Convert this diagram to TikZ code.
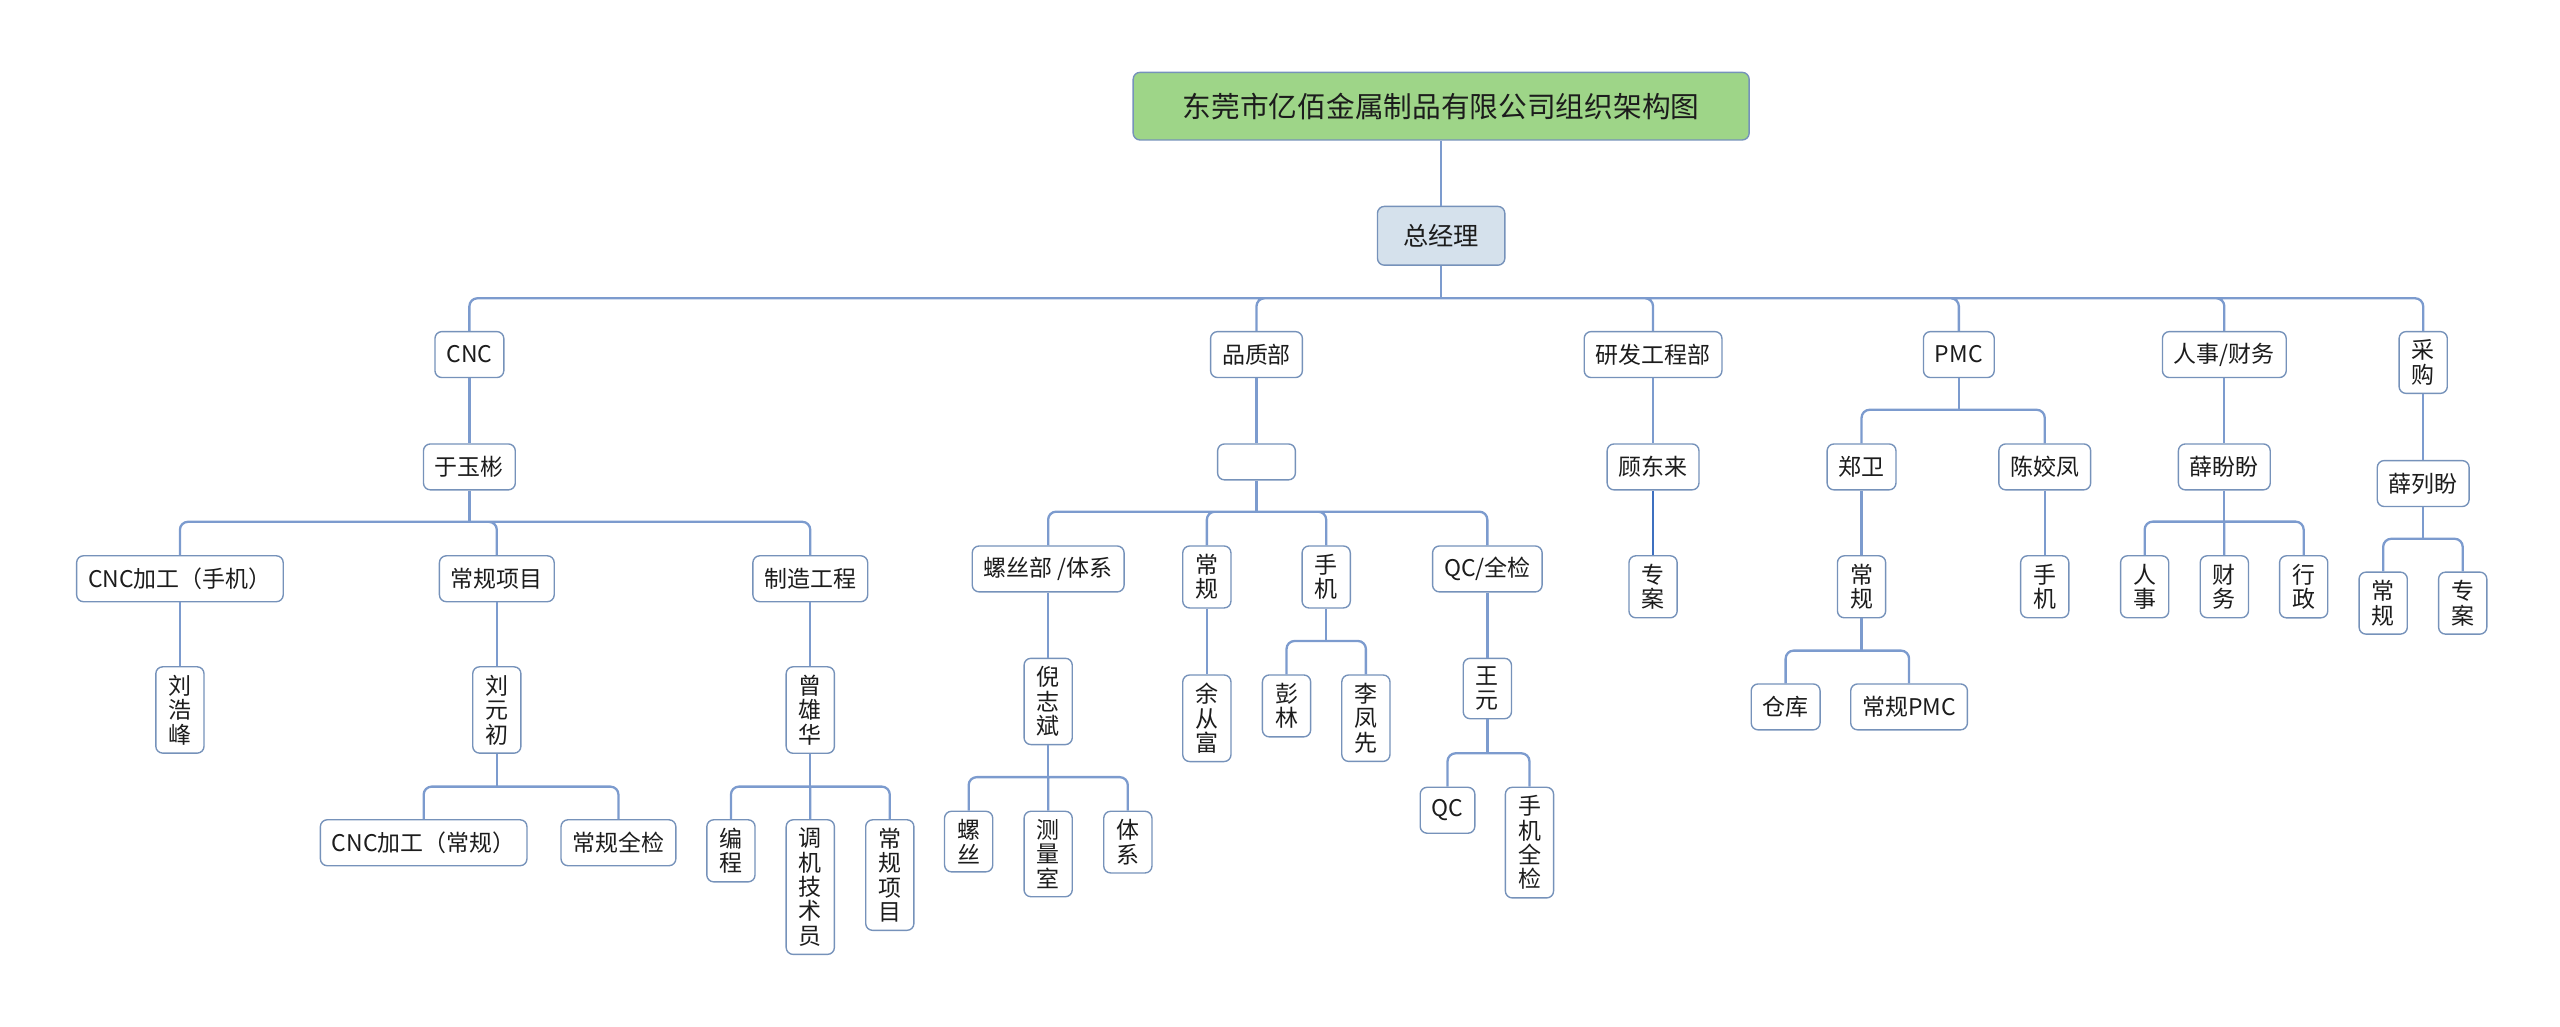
\documentclass[tikz,border=0pt]{standalone}
\usepackage{fontspec}
\setmainfont{Noto Sans CJK SC}
\usepackage{tikz}
\definecolor{OrgGreen}{RGB}{158,213,136}
\definecolor{OrgGrey}{RGB}{213,225,236}
\definecolor{OrgEdge}{RGB}{118,146,186}
\definecolor{OrgLine}{RGB}{124,155,206}
\definecolor{OrgDeep}{RGB}{62,112,192}
\definecolor{OrgText}{RGB}{28,28,28}

\begin{document}
\begin{tikzpicture}[x=0.025cm, y=-0.025cm,
      every node/.style={font=\fontsize{10}{10.6}\selectfont, text=OrgText},
      titlebox/.style={draw=OrgEdge, fill=OrgGreen, rounded corners=3pt, line width=0.6pt,
                       minimum width=9.43cm, minimum height=1.035cm, anchor=north,
                       font=\fontsize{12.5}{14}\selectfont},
      gmbox/.style={draw=OrgEdge, fill=OrgGrey, rounded corners=3pt, line width=0.6pt,
                    minimum width=1.95cm, minimum height=0.9cm, anchor=north,
                    font=\fontsize{11}{13}\selectfont},
      hbox/.style={draw=OrgEdge, fill=white, rounded corners=3pt, line width=0.6pt,
                   minimum height=20pt, inner xsep=5pt, inner ysep=0pt, anchor=north},
      vbox/.style={hbox, align=center, inner xsep=5.5pt, inner ysep=3.6pt, minimum height=0pt},
      conn/.style={draw=OrgLine, line width=1pt, rounded corners=3.5pt},
    ]
  \useasboundingbox (0,0) rectangle (1568,629);
  % Top: company and general manager
  \node[titlebox] (title) at (882.7,43.9) {东莞市亿佰金属制品有限公司组织架构图};
  \node[gmbox] (gm) at (882.7,126) {总经理};
  \draw[conn] (title.south) -- (gm.north);
  % Departments
  \node[hbox] (cnc) at (287.5,202.7) {CNC};
  \node[hbox] (qa) at (769.6,202.7) {品质部};
  \node[hbox] (rd) at (1012.5,202.7) {研发工程部};
  \node[hbox] (pmc) at (1199.8,202.7) {PMC};
  \node[hbox] (hr) at (1362.4,202.7) {人事/财务};
  \node[vbox] (buy) at (1484.2,202.7) {采\\购};
  \draw[conn] (gm.south) -- (gm.south |- 0,182.7) coordinate (b-gm);
  \draw[conn] (b-gm) -| (cnc.north) (b-gm) -| (qa.north) (b-gm) -| (rd.north)
    (b-gm) -| (pmc.north) (b-gm) -| (hr.north) (b-gm) -| (buy.north);

  % CNC
  \node[hbox] (yyb) at (287.5,271.5) {于玉彬};
  \draw[conn] (cnc.south) -- (yyb.north);
  \node[hbox] (cncsj) at (110.2,340) {CNC加工（手机）};
  \node[hbox] (cgxm) at (304.3,340) {常规项目};
  \node[hbox] (zzgc) at (496.3,340) {制造工程};
  \draw[conn] (yyb.south) -- (yyb.south |- 0,319.6) coordinate (b-yyb);
  \draw[conn] (b-yyb) -| (cncsj.north) (b-yyb) -| (cgxm.north) (b-yyb) -| (zzgc.north);
  \node[vbox] (lhf) at (110.2,408) {刘\\浩\\峰};
  \node[vbox] (lyc) at (304.3,408) {刘\\元\\初};
  \node[vbox] (zxh) at (496.3,408) {曾\\雄\\华};
  \draw[conn] (cncsj.south) -- (lhf.north);
  \draw[conn] (cgxm.south) -- (lyc.north);
  \draw[conn] (zzgc.south) -- (zxh.north);
  \node[hbox] (cncg) at (259.5,501.7) {CNC加工（常规）};
  \node[hbox] (cgqj) at (378.8,501.7) {常规全检};
  \draw[conn] (lyc.south) -- (lyc.south |- 0,481.8) coordinate (b-lyc);
  \draw[conn] (b-lyc) -| (cncg.north) (b-lyc) -| (cgqj.north);
  \node[vbox] (bc) at (447.7,501.7) {编\\程};
  \node[vbox] (tjjsy) at (496.3,501.7) {调\\机\\技\\术\\员};
  \node[vbox] (cgxmv) at (545,501.7) {常\\规\\项\\目};
  \draw[conn] (zxh.south) -- (zxh.south |- 0,481.8) coordinate (b-zxh);
  \draw[conn] (b-zxh) -| (bc.north) (b-zxh) -- (tjjsy.north) (b-zxh) -| (cgxmv.north);

  % 品质部
  \node[hbox, minimum width=1.19cm, minimum height=0.55cm] (qa0) at (769.6,271.5) {};
  \draw[conn] (qa.south) -- (qa0.north);
  \node[hbox] (lsb) at (642,334) {螺丝部 /体系};
  \node[vbox] (qacg) at (739.2,334) {常\\规};
  \node[vbox] (qasj) at (812.3,334) {手\\机};
  \node[hbox] (qcqj) at (911,334) {QC/全检};
  \draw[conn] (qa0.south) -- (qa0.south |- 0,313.4) coordinate (b-qa0);
  \draw[conn] (b-qa0) -| (lsb.north) (b-qa0) -| (qacg.north) (b-qa0) -| (qasj.north)
    (b-qa0) -| (qcqj.north);
  \node[vbox] (nzb) at (642,402.8) {倪\\志\\斌};
  \node[vbox] (ycf) at (739.2,413) {余\\从\\富};
  \node[vbox] (pl) at (788,413) {彭\\林};
  \node[vbox] (lfx) at (836.6,413) {李\\凤\\先};
  \node[vbox] (wy) at (911,402.8) {王\\元};
  \draw[conn] (lsb.south) -- (nzb.north);
  \draw[conn] (qacg.south) -- (ycf.north);
  \draw[conn] (qcqj.south) -- (wy.north);
  \draw[conn] (qasj.south) -- (qasj.south |- 0,392.6) coordinate (b-qasj);
  \draw[conn] (b-qasj) -| (pl.north) (b-qasj) -| (lfx.north);
  \node[vbox] (ls) at (593.3,496.5) {螺\\丝};
  \node[vbox] (clsh) at (642,496.5) {测\\量\\室};
  \node[vbox] (tx) at (690.8,496.5) {体\\系};
  \draw[conn] (nzb.south) -- (nzb.south |- 0,476) coordinate (b-nzb);
  \draw[conn] (b-nzb) -| (ls.north) (b-nzb) -- (clsh.north) (b-nzb) -| (tx.north);
  \node[hbox] (qc) at (886.6,481.8) {QC};
  \node[vbox] (sjqj) at (936.8,481.8) {手\\机\\全\\检};
  \draw[conn] (wy.south) -- (wy.south |- 0,461.4) coordinate (b-wy);
  \draw[conn] (b-wy) -| (qc.north) (b-wy) -| (sjqj.north);

  % 研发工程部
  \node[hbox] (gdl) at (1012.5,271.5) {顾东来};
  \node[vbox] (rdza) at (1012.5,340) {专\\案};
  \draw[conn] (rd.south) -- (gdl.north);
  \draw[conn, draw=OrgDeep] (gdl.south) -- (rdza.north);

  % PMC
  \node[hbox] (zw) at (1140.2,271.5) {郑卫};
  \node[hbox] (cjf) at (1252.4,271.5) {陈姣凤};
  \draw[conn] (pmc.south) -- (pmc.south |- 0,251) coordinate (b-pmc);
  \draw[conn] (b-pmc) -| (zw.north) (b-pmc) -| (cjf.north);
  \node[vbox] (pmccg) at (1140.2,340) {常\\规};
  \node[vbox] (pmcsj) at (1252.4,340) {手\\机};
  \draw[conn] (zw.south) -- (pmccg.north);
  \draw[conn] (cjf.south) -- (pmcsj.north);
  \node[hbox] (ck) at (1093.7,418.5) {仓库};
  \node[hbox] (cgpmc) at (1169.3,418.5) {常规PMC};
  \draw[conn] (pmccg.south) -- (pmccg.south |- 0,398.5) coordinate (b-pmccg);
  \draw[conn] (b-pmccg) -| (ck.north) (b-pmccg) -| (cgpmc.north);

  % 人事/财务
  \node[hbox] (xpp) at (1362.4,271.5) {薛盼盼};
  \draw[conn] (hr.south) -- (xpp.north);
  \node[vbox] (rs) at (1313.6,340) {人\\事};
  \node[vbox] (cw) at (1362.4,340) {财\\务};
  \node[vbox] (xz) at (1411,340) {行\\政};
  \draw[conn] (xpp.south) -- (xpp.south |- 0,319.5) coordinate (b-xpp);
  \draw[conn] (b-xpp) -| (rs.north) (b-xpp) -- (cw.north) (b-xpp) -| (xz.north);

  % 采购
  \node[hbox] (xlp) at (1484.2,281.7) {薛列盼};
  \draw[conn] (buy.south) -- (xlp.north);
  \node[vbox] (buycg) at (1459.7,350) {常\\规};
  \node[vbox] (buyza) at (1508.4,350) {专\\案};
  \draw[conn] (xlp.south) -- (xlp.south |- 0,330) coordinate (b-xlp);
  \draw[conn] (b-xlp) -| (buycg.north) (b-xlp) -| (buyza.north);
\end{tikzpicture}
\end{document}
